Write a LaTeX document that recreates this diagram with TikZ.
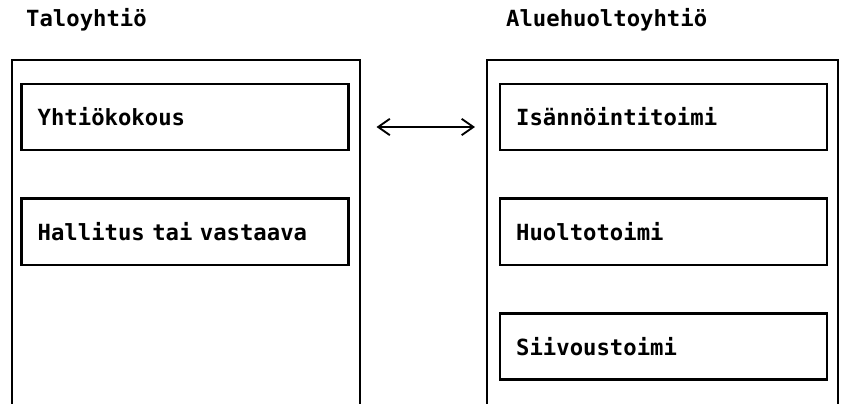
\documentclass[tikz,border=0pt]{standalone}
\usepackage{fontspec}
\setmonofont{DejaVu Sans Mono}
\usetikzlibrary{arrows.meta}

\def\boxsep{3.44cm}

\begin{document}
\begin{tikzpicture}[x=0.03cm,y=-0.03cm,line width=2pt,node distance=\boxsep,
        font=\fontsize{19}{21}\selectfont\ttfamily\bfseries]
        \tikzstyle{unit}=[draw,rectangle,minimum width=9.8cm,minimum height=1.98cm,
            inner xsep=0.48cm,text width=8.84cm,align=left]
        \tikzstyle{title}=[anchor=west,inner sep=0pt]
        \tikzstyle{link}=[{Straight Barb[length=10pt,width=14pt]}-{Straight Barb[length=10pt,width=14pt]},line width=1.6pt]

        \useasboundingbox (0,0) rectangle (842,404);

        % Draw the two companies (open at the bottom)
        \coordinate (L-top) at (12,60);
        \coordinate (L-end) at (360,404);
        \coordinate (R-top) at (487,60);
        \coordinate (R-end) at (838,404);
        \draw (L-top |- L-end) -- (L-top) -- (L-top -| L-end) -- (L-end);
        \draw (R-top |- R-end) -- (R-top) -- (R-top -| R-end) -- (R-end);

        % Annotate the companies
        \node[title] (tl) at (25,20) {Taloyhtiö};
        \node[title] (al) at (505,20) {Aluehuoltoyhtiö};

        % Draw the organs of each company
        \node[unit] (Y) at (185,117) {Yhtiökokous};
        \node[unit, below of=Y] (H) {Hallitus tai vastaava};
        \node[unit] (I) at (663.5,117) {Isännöintitoimi};
        \node[unit, below of=I] (HT) {Huoltotoimi};
        \node[unit, below of=HT] (S) {Siivoustoimi};

        % Connect the two companies
        \draw[link, shorten <=0.81cm, shorten >=0.72cm]
            ([yshift=-0.3cm]Y.east) -- ([yshift=-0.3cm]I.west);

    \end{tikzpicture}
\end{document}
